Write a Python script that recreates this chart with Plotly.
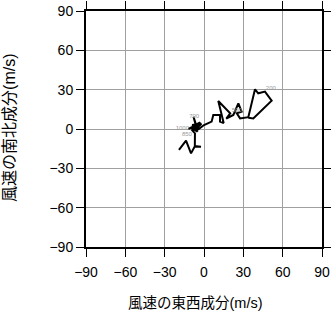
import plotly.graph_objects as go

# Hodograph trace (u: east-west, v: north-south), m/s
u = [-19.1, -13.7, -9.9, -6.9, -2.3, -7.0, -6.9, -9.0, -4.0, -10.0, -5.0, -8.0, -6.0,
     -12.0, -3.0, -7.0, -2.0, -9.0, -4.0, 0.0, 5.8, 7.1, 12.2, 12.2, 15.0, 10.9, 20.0,
     17.0, 22.4, 26.2, 28.7, 25.0, 27.5, 33.8, 38.9, 41.4, 46.5, 51.6, 37.6, 33.8]
v = [-16.0, -8.9, -18.6, -13.0, -13.5, -13.5, -3.3, -1.0, 2.0, 1.0, -2.0, 9.4, 3.0,
     0.0, 5.0, -1.0, 4.0, 3.0, 0.0, 3.0, 5.6, 10.7, 10.7, 5.6, 4.5, 21.4, 12.0,
     8.0, 10.7, 19.6, 13.2, 12.0, 8.1, 9.0, 30.3, 27.2, 28.5, 21.6, 8.1, 8.6]

# Pressure-level labels
label_text = ["1000", "850", "700", "500", "200"]
label_u = [-16.5, -13.0, -7.5, 25.0, 51.0]
label_v = [0.5, -4.0, 9.5, 14.0, 31.0]

ticks = [-90, -60, -30, 0, 30, 60, 90]

fig = go.Figure()
fig.add_trace(go.Scatter(x=u, y=v, mode="lines",
                         line=dict(color="black", width=2), hoverinfo="skip"))
fig.add_trace(go.Scatter(x=label_u, y=label_v, mode="text", text=label_text,
                         textfont=dict(size=6, color="#999999"), hoverinfo="skip"))

font_family = "Liberation Sans, Noto Sans CJK JP, sans-serif"
axis_common = dict(range=[-90, 90], tickvals=ticks, ticks="outside", ticklen=8,
                   tickwidth=1, tickcolor="black", showline=True, linecolor="black",
                   linewidth=2, mirror="ticks", showgrid=True, gridcolor="#a0a0a0",
                   gridwidth=1, zeroline=False, automargin=False,
                   tickfont=dict(size=14, color="black"))

fig.update_layout(
    width=331, height=318,
    margin=dict(l=86, r=9, t=11, b=71),
    paper_bgcolor="white", plot_bgcolor="white",
    font=dict(family=font_family, color="black"),
    showlegend=False,
    xaxis=dict(**axis_common, ticklabelstandoff=3),
    yaxis=dict(**axis_common),
    annotations=[
        dict(text="風速の東西成分(m/s)", xref="paper", yref="paper", x=0.465, y=-0.237,
             xanchor="center", yanchor="middle", showarrow=False,
             font=dict(size=14.5, color="black")),
        dict(text="風速の南北成分(m/s)", xref="paper", yref="paper", x=-0.325, y=0.506,
             xanchor="center", yanchor="middle", showarrow=False, textangle=-90,
             font=dict(size=16, color="black")),
    ],
)

fig.write_html("out.html")
